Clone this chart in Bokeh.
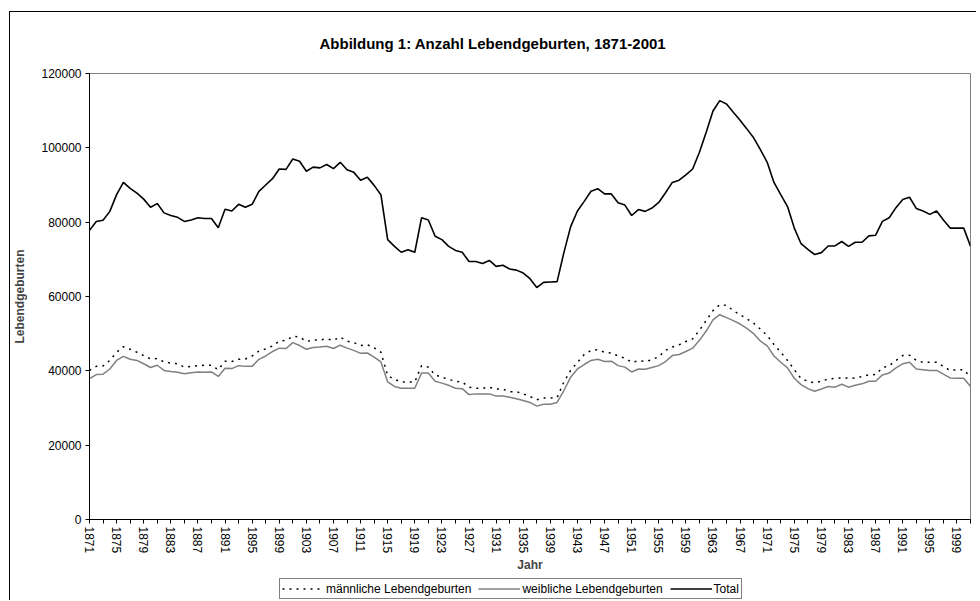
from bokeh.plotting import figure
from bokeh.layouts import column
from bokeh.models import (Range1d, FixedTicker, Legend, LegendItem, Title,
                          BasicTickFormatter)
from bokeh.embed import file_html
from bokeh.resources import INLINE

years = list(range(1871, 2002))

total = [
    77800, 80200, 80500, 82900, 87400, 90700, 89100, 87800, 86200, 84000,
    85000, 82500, 81800, 81300, 80200, 80600, 81200, 81000, 81000, 78500,
    83500, 83000, 84800, 84000, 84800, 88300, 90000, 91700, 94300, 94200,
    97000, 96400, 93700, 94800, 94600, 95500, 94400, 96100, 94100, 93400,
    91300, 92100, 89900, 87400, 75300, 73500, 71900, 72600, 71900, 81200,
    80600, 76200, 75300, 73500, 72400, 71900, 69400, 69400, 68900, 69700,
    68100, 68400, 67400, 67100, 66300, 64800, 62400, 63800, 63900, 64000,
    71800, 78800, 83000, 85600, 88300, 89000, 87600, 87600, 85200, 84600,
    81800, 83400, 82900, 83800, 85300, 87900, 90700, 91300, 92700, 94300,
    98800, 104200, 109900, 112700, 111800, 109600, 107400, 105100, 102700, 99500,
    96100, 90700, 87400, 84200, 78400, 74200, 72700, 71300, 71800, 73600,
    73600, 74800, 73500, 74600, 74600, 76300, 76500, 80200, 81200, 83900,
    86100, 86700, 83700, 83000, 82100, 83000, 80600, 78400, 78400, 78400,
    73500,
]

female = [
    37900, 39000, 39100, 40500, 42800, 43900, 43100, 42800, 41900, 40900,
    41500, 40100, 39800, 39600, 39200, 39500, 39700, 39600, 39700, 38500,
    40700, 40600, 41400, 41200, 41200, 43100, 44000, 45200, 46100, 46000,
    47600, 46800, 45800, 46300, 46400, 46600, 46000, 46900, 46100, 45500,
    44700, 44800, 43700, 42400, 37000, 35800, 35300, 35300, 35300, 39400,
    39400, 37200, 36700, 36100, 35300, 35200, 33600, 33800, 33800, 33800,
    33200, 33200, 32900, 32500, 32000, 31500, 30500, 31000, 31000, 31500,
    34700, 38300, 40500, 41700, 42800, 43100, 42500, 42600, 41400, 41000,
    39700, 40500, 40400, 40900, 41400, 42500, 44100, 44400, 45200, 46100,
    48200, 50700, 53700, 55100, 54300, 53500, 52600, 51400, 50000, 48000,
    46700, 44000, 42300, 40800, 38000, 36300, 35200, 34500, 35100, 35800,
    35600, 36400, 35600, 36100, 36500, 37200, 37200, 38900, 39400, 40800,
    41900, 42300, 40500, 40300, 40100, 40100, 39100, 38100, 38000, 38000,
    35800,
]

male = [
    40100, 41200, 41300, 42800, 45000, 46500, 45800, 45000, 44100, 43200,
    43300, 42400, 42100, 41900, 41000, 41200, 41400, 41500, 41500, 40300,
    42600, 42500, 43100, 43200, 44000, 45300, 45900, 46700, 48000, 48200,
    49300, 49100, 47900, 48300, 48300, 48600, 48200, 49100, 48000, 47600,
    46800, 47000, 46200, 45000, 38700, 37700, 37000, 37000, 37000, 41400,
    41000, 38900, 38300, 37700, 37200, 37000, 35600, 35300, 35300, 35600,
    35100, 35100, 34400, 34400, 33800, 33100, 32200, 32700, 32700, 32800,
    37000, 40100, 42300, 44400, 45500, 45700, 45000, 44800, 44000, 43400,
    42300, 42700, 42500, 43000, 43800, 45500, 46400, 47000, 47900, 48600,
    50900, 53500, 56200, 57800, 57600, 56200, 55100, 54000, 52800, 51200,
    49500, 47100, 45000, 42800, 40300, 37900, 37200, 36800, 37200, 37800,
    38000, 38100, 38100, 38000, 38500, 38900, 39000, 40800, 41400, 42800,
    44100, 44200, 42800, 42300, 42300, 42300, 41200, 40100, 40300, 40300,
    38300,
]

y_ticks = [0, 20000, 40000, 60000, 80000, 100000, 120000]
x_label_years = list(range(1871, 2000, 4))
x_minor_years = list(range(1873, 2002, 4))

title_text = "Abbildung 1: Anzahl Lebendgeburten, 1871-2001"
legend_labels = ["männliche Lebendgeburten", "weibliche Lebendgeburten", "Total"]

FONT = "Liberation Sans"

MALE_STYLE = dict(line_color="black", line_width=1.5, line_dash="2 5")
FEMALE_STYLE = dict(line_color="#808080", line_width=1.5)
TOTAL_STYLE = dict(line_color="black", line_width=1.6)

p = figure(width=966, height=564, output_backend="svg", toolbar_location=None,
           x_range=Range1d(1871, 2001), y_range=Range1d(0, 120000),
           min_border_left=79, min_border_top=61, min_border_right=6,
           min_border_bottom=57, title=None)
p.background_fill_color = "white"
p.border_fill_color = "white"
p.outline_line_color = "#808080"
p.outline_line_width = 1
p.xgrid.visible = False
p.ygrid.visible = False

p.line(years, male, **MALE_STYLE)
p.line(years, female, **FEMALE_STYLE)
p.line(years, total, **TOTAL_STYLE)

# axes
xa = p.xaxis[0]
xa.ticker = FixedTicker(ticks=x_label_years, minor_ticks=x_minor_years)
xa.major_label_orientation = "vertical"
xa.major_tick_out = 4
xa.major_tick_in = 0
xa.minor_tick_out = 4
xa.minor_tick_in = 0
xa.axis_line_color = "black"
xa.major_tick_line_color = "black"
xa.minor_tick_line_color = "black"
xa.major_label_text_font = FONT
xa.major_label_text_font_size = "12px"
xa.major_label_text_color = "black"
xa.major_label_standoff = 3
xa.axis_label = "Jahr"
xa.axis_label_text_font = FONT
xa.axis_label_text_font_size = "12px"
xa.axis_label_text_font_style = "bold"
xa.axis_label_standoff = 2

ya = p.yaxis[0]
ya.ticker = FixedTicker(ticks=y_ticks, minor_ticks=[])
ya.formatter = BasicTickFormatter(use_scientific=False)
ya.major_tick_out = 4
ya.major_tick_in = 0
ya.minor_tick_out = 0
ya.minor_tick_in = 0
ya.axis_line_color = "black"
ya.major_tick_line_color = "black"
ya.major_label_text_font = FONT
ya.major_label_text_font_size = "12px"
ya.major_label_text_color = "black"
ya.major_label_standoff = 4
ya.axis_label = "Lebendgeburten"
ya.axis_label_text_font = FONT
ya.axis_label_text_font_size = "12px"
ya.axis_label_text_font_style = "bold"
ya.axis_label_standoff = 11

title = Title(text=title_text, text_font=FONT, text_font_size="15px",
              text_font_style="bold", text_color="black", align="left",
              offset=230, vertical_align="top", standoff=40)
p.add_layout(title, "above")

# legend strip below the chart (its lines fall outside its own ranges)
q = figure(width=966, height=24, output_backend="svg", toolbar_location=None,
           x_range=Range1d(0, 1), y_range=Range1d(0, 1),
           x_axis_location=None, y_axis_location=None,
           min_border_left=0, min_border_right=0, min_border_top=0,
           min_border_bottom=0, title=None)
q.outline_line_color = None
q.xgrid.visible = False
q.ygrid.visible = False
q.background_fill_color = "white"
q.border_fill_color = "white"
lm = q.line(years, male, **MALE_STYLE)
lf = q.line(years, female, **FEMALE_STYLE)
lt = q.line(years, total, **TOTAL_STYLE)

legend = Legend(items=[LegendItem(label=legend_labels[0], renderers=[lm]),
                       LegendItem(label=legend_labels[1], renderers=[lf]),
                       LegendItem(label=legend_labels[2], renderers=[lt])],
                orientation="horizontal", location=(190, 1),
                label_text_font=FONT, label_text_font_size="12px",
                label_text_color="black", glyph_width=42, glyph_height=15,
                label_height=15, label_standoff=2, spacing=7, padding=2,
                margin=0, border_line_color="black", border_line_width=1,
                background_fill_color="white", background_fill_alpha=1)
q.add_layout(legend, "center")

layout = column(p, q, spacing=0,
                styles={"margin-left": "9px", "margin-top": "11px",
                        "border-left": "1px solid black",
                        "border-top": "1px solid black"})

open("out.html", "w").write(file_html(layout, INLINE))
